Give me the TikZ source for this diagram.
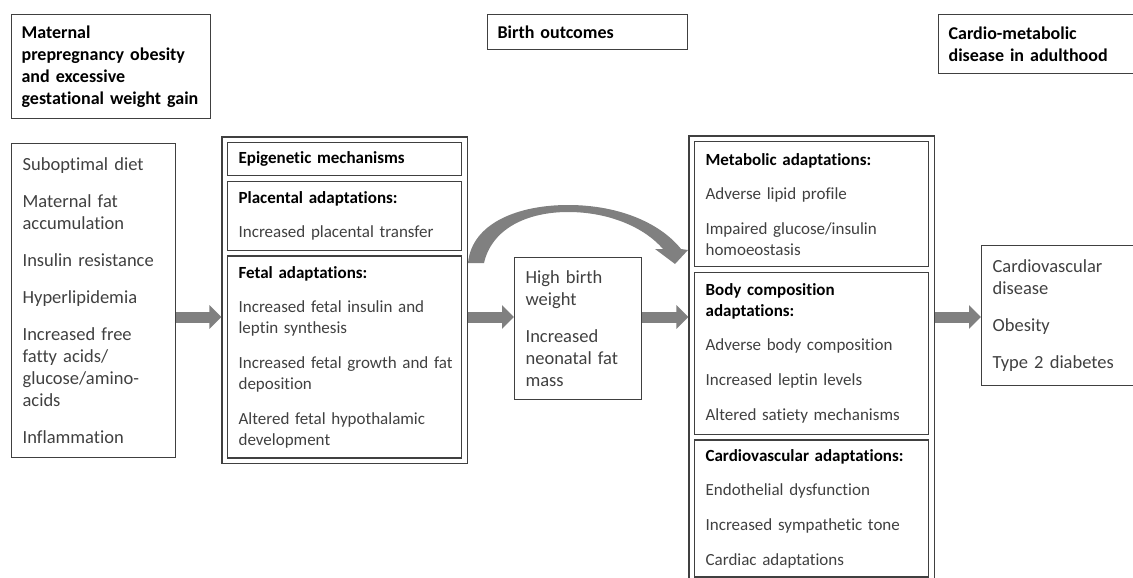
\documentclass[tikz,border=0pt]{standalone}
\usepackage{fontspec}
\setmainfont{Carlito}[Ligatures=NoCommon]
\usetikzlibrary{positioning, arrows.meta, fit}

\definecolor{boxgray}{HTML}{404040}
\definecolor{textgray}{HTML}{404040}
\definecolor{arrowgray}{HTML}{808080}
\newcommand{\boxhead}[1]{{\color{black}\bfseries #1}}

\begin{document}
\begin{tikzpicture}[
    x=1pt, y=-1pt,
    node distance=4.5pt,
    box/.style={draw=boxgray, line width=1.2pt, anchor=north west,
        inner xsep=11pt, inner ysep=3pt, align=left, text=textgray,
        text width=212pt, font=\fontsize{17}{21}\selectfont},
    bigbox/.style={box, font=\fontsize{18.5}{22}\selectfont},
    headbox/.style={box, text=black, inner xsep=10pt,
        font=\fontsize{18}{22}\selectfont\bfseries},
    frame/.style={draw=boxgray, line width=1.2pt, inner sep=5pt},
    fatarrow/.style={arrowgray, line width=11pt, -{Triangle[length=12pt, width=23pt]}}
]
\useasboundingbox (0,0) rectangle (1133,578);

% column headers
\node[headbox, text width=179pt, minimum height=104pt] (maternal) at (11,14)
    {Maternal\\prepregnancy obesity\\and excessive\\gestational weight gain};
\node[headbox, text width=180pt, minimum height=35pt] (birthhead) at (487,14) {Birth outcomes};
\node[headbox, text width=177pt, minimum height=59pt] (adulthead) at (938,14)
    {Cardio-metabolic\\disease in adulthood};

% maternal factors
\node[bigbox, text width=142pt, minimum height=314pt] (factors) at (11,143)
    {Suboptimal diet\\[15pt] Maternal fat\\accumulation\\[15pt] Insulin resistance\\[15pt]
     Hyperlipidemia\\[15pt] Increased free\\fatty acids/\\glucose/amino-\\acids\\[15pt] Inflammation};

% in utero adaptations
\node[box, minimum height=33pt] (epi) at (227,142) {\boxhead{Epigenetic mechanisms}};
\node[box, minimum height=69pt, below=of epi] (placental)
    {\boxhead{Placental adaptations:}\\[13pt] Increased placental transfer};
\node[box, minimum height=202pt, below=of placental] (fetal)
    {\boxhead{Fetal adaptations:}\\[13pt] Increased fetal insulin and\\leptin synthesis\\[14pt]
     \mbox{Increased fetal growth and fat}\\deposition\\[14pt] Altered fetal hypothalamic\\development};
\node[frame, fit=(epi)(fetal)] (utero) {};

% birth
\node[bigbox, text width=105pt, minimum height=142pt] (birth) at (514,257)
    {High birth\\weight\\[15pt] Increased\\neonatal fat\\mass};

% later adaptations
\node[box, minimum height=125pt] (metabolic) at (694,141)
    {\boxhead{Metabolic adaptations:}\\[13pt] Adverse lipid profile\\[14pt]
     Impaired glucose/insulin\\homoeostasis};
\node[box, minimum height=162pt, below=of metabolic] (body)
    {\boxhead{Body composition}\\\boxhead{adaptations:}\\[13pt] Adverse body composition\\[14pt]
     Increased leptin levels\\[14pt] Altered satiety mechanisms};
\node[box, minimum height=137pt, below=of body] (cardio)
    {\boxhead{Cardiovascular adaptations:}\\[13pt] Endothelial dysfunction\\[14pt]
     Increased sympathetic tone\\[14pt] Cardiac adaptations};
\node[frame, fit=(metabolic)(cardio)] (later) {};

% adult outcomes
\node[bigbox, text width=133pt, minimum height=140pt] (disease) at (981,245)
    {Cardiovascular\\disease\\[15pt] Obesity\\[15pt] Type 2 diabetes};

% arrows
\coordinate (flow) at (0,317);
\draw[fatarrow] (factors.east |- flow) -- (utero.west |- flow);
\draw[fatarrow] (utero.east |- flow) -- (birth.west |- flow);
\draw[fatarrow] (birth.east |- flow) -- (later.west |- flow);
\draw[fatarrow] (later.east |- flow) -- (disease.west |- flow);

% curved arrow over the birth box
\fill[arrowgray] (468,263) .. controls (472,222) and (520,205) .. (568,205)
    .. controls (622,205) and (662,225) .. (681,249) -- (688,250) -- (675,264)
    -- (655,249) -- (663,249) .. controls (645,228) and (610,212) .. (568,212)
    .. controls (528,212) and (492,228) .. (484,263) -- cycle;
\end{tikzpicture}
\end{document}
